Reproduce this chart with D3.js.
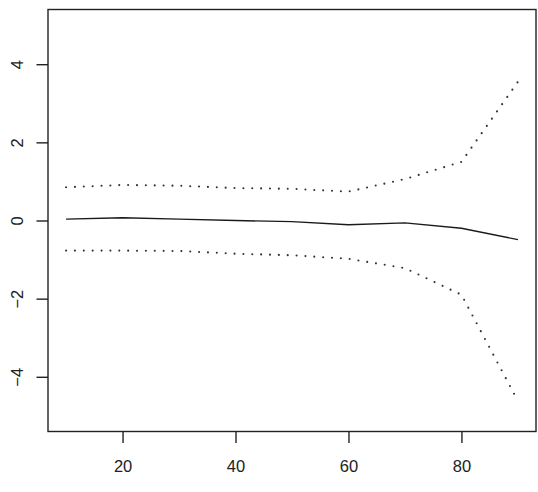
<!DOCTYPE html>
<html>
<head>
<meta charset="utf-8">
<script src="https://cdn.jsdelivr.net/npm/d3@7"></script>
<style>
  html, body { margin: 0; padding: 0; background: #fff; }
  svg { display: block; }
</style>
</head>
<body>
<script>
// Data
const xValues = [10, 20, 30, 40, 50, 60, 70, 80, 90];
const fitValues = [0.035, 0.07, 0.035, 0.0, -0.03, -0.11, -0.06, -0.2, -0.49];
const upperValues = [0.85, 0.91, 0.89, 0.83, 0.81, 0.74, 1.06, 1.5, 3.55];
const lowerValues = [-0.77, -0.77, -0.78, -0.85, -0.89, -0.98, -1.22, -1.9, -4.62];
const xTicks = [20, 40, 60, 80];
const yTicks = [-4, -2, 0, 2, 4];
const xLim = [10, 90];
const yLim = [-5, 5];

(function () {
const W = 538, H = 492;
const plotLeft = 48, plotRight = 536, plotTop = 9.5, plotBottom = 431.5;

const expand = (lim) => {
  const d = (lim[1] - lim[0]) * 0.04;
  return [lim[0] - d, lim[1] + d];
};

const x = d3.scaleLinear().domain(expand(xLim)).range([plotLeft, plotRight]);
const y = d3.scaleLinear().domain(expand(yLim)).range([plotBottom, plotTop]);

const svg = d3.select("body").append("svg")
  .attr("width", W).attr("height", H)
  .style("font-family", "'Liberation Sans', Arial, Helvetica, sans-serif");

const line = d3.line().x(d => x(d[0])).y(d => y(d[1]));
const toPts = (vals) => xValues.map((xv, i) => [xv, vals[i]]);

// Confidence bands (dotted)
[upperValues, lowerValues].forEach(vals => {
  svg.append("path")
    .attr("d", line(toPts(vals)))
    .attr("fill", "none")
    .attr("stroke", "#333")
    .attr("stroke-width", 2.1)
    .attr("stroke-linecap", "round")
    .attr("stroke-dasharray", "0,8.87");
});

// Fitted line (solid)
svg.append("path")
  .attr("d", line(toPts(fitValues)))
  .attr("fill", "none")
  .attr("stroke", "#1a1a1a")
  .attr("stroke-width", 1.4);

// Box
svg.append("rect")
  .attr("x", plotLeft).attr("y", plotTop)
  .attr("width", plotRight - plotLeft).attr("height", plotBottom - plotTop)
  .attr("fill", "none").attr("stroke", "#222").attr("stroke-width", 1.4);

// X axis
const gx = svg.append("g")
  .attr("transform", `translate(0,${plotBottom})`)
  .call(d3.axisBottom(x).tickValues(xTicks).tickSize(11.5).tickSizeOuter(0).tickFormat(d3.format("d")));
gx.select(".domain").remove();
gx.selectAll(".tick line").attr("stroke", "#222").attr("stroke-width", 1.4);
gx.selectAll(".tick text")
  .attr("y", 40.3).attr("dy", null)
  .attr("fill", "#222")
  .style("font-size", "16.5px");

// Y axis
const gy = svg.append("g")
  .attr("transform", `translate(${plotLeft},0)`)
  .call(d3.axisLeft(y).tickValues(yTicks).tickSize(11.5).tickSizeOuter(0)
    .tickFormat(d => d < 0 ? "\u2212" + Math.abs(d) : String(d)));
gy.select(".domain").remove();
gy.selectAll(".tick line").attr("stroke", "#222").attr("stroke-width", 1.4);
gy.selectAll(".tick text")
  .attr("x", null).attr("y", null).attr("dy", null)
  .attr("text-anchor", "middle")
  .attr("transform", "translate(-25.3,0) rotate(-90)")
  .attr("fill", "#222")
  .style("font-size", "16.5px");
})();
</script>
</body>
</html>
